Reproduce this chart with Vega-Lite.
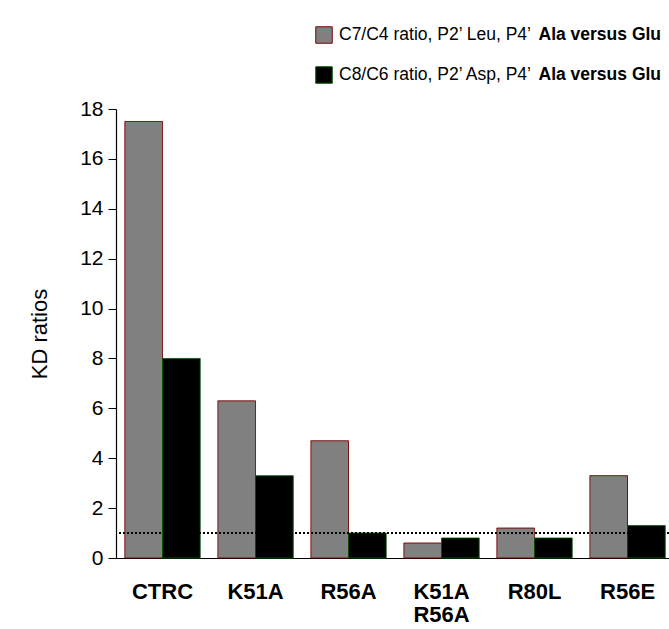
{
  "$schema": "https://vega.github.io/schema/vega-lite/v6.json",
  "width": 553,
  "height": 449,
  "autosize": {"type": "none"},
  "padding": {"left": 116, "top": 109, "right": 0, "bottom": 71},
  "config": {"font": "Liberation Sans", "view": {"stroke": null}},
  "data": {"values": [
    {"variant": "CTRC", "series": "C7/C4 ratio, P2’ Leu, P4’", "comparison": "C7/C4", "ratio": 17.5},
    {"variant": "CTRC", "series": "C8/C6 ratio, P2’ Asp, P4’", "comparison": "C8/C6", "ratio": 8.0},
    {"variant": "K51A", "series": "C7/C4 ratio, P2’ Leu, P4’", "comparison": "C7/C4", "ratio": 6.3},
    {"variant": "K51A", "series": "C8/C6 ratio, P2’ Asp, P4’", "comparison": "C8/C6", "ratio": 3.3},
    {"variant": "R56A", "series": "C7/C4 ratio, P2’ Leu, P4’", "comparison": "C7/C4", "ratio": 4.7},
    {"variant": "R56A", "series": "C8/C6 ratio, P2’ Asp, P4’", "comparison": "C8/C6", "ratio": 1.0},
    {"variant": "K51A R56A", "series": "C7/C4 ratio, P2’ Leu, P4’", "comparison": "C7/C4", "ratio": 0.6},
    {"variant": "K51A R56A", "series": "C8/C6 ratio, P2’ Asp, P4’", "comparison": "C8/C6", "ratio": 0.8},
    {"variant": "R80L", "series": "C7/C4 ratio, P2’ Leu, P4’", "comparison": "C7/C4", "ratio": 1.2},
    {"variant": "R80L", "series": "C8/C6 ratio, P2’ Asp, P4’", "comparison": "C8/C6", "ratio": 0.8},
    {"variant": "R56E", "series": "C7/C4 ratio, P2’ Leu, P4’", "comparison": "C7/C4", "ratio": 3.3},
    {"variant": "R56E", "series": "C8/C6 ratio, P2’ Asp, P4’", "comparison": "C8/C6", "ratio": 1.3}
  ]},
  "layer": [
    {
      "mark": {"type": "bar", "strokeWidth": 1},
      "encoding": {
        "x": {
          "field": "variant", "type": "nominal",
          "sort": ["CTRC", "K51A", "R56A", "K51A R56A", "R80L", "R56E"],
          "scale": {"paddingInner": 0.19, "paddingOuter": 0.068, "align": 0.7},
          "axis": {
            "title": null, "labelAngle": 0, "labelFontSize": 22, "labelFontWeight": "bold",
            "labelColor": "black", "ticks": false, "tickSize": 0, "labelPadding": 23,
            "domainColor": "black", "domainWidth": 1.2,
            "labelExpr": "split(datum.label, ' ')", "labelLineHeight": 23
          }
        },
        "xOffset": {
          "field": "series", "type": "nominal",
          "scale": {"paddingInner": 0, "paddingOuter": 0}
        },
        "y": {
          "field": "ratio", "type": "quantitative",
          "scale": {"domain": [0, 18], "nice": false},
          "axis": {
            "values": [0, 1, 2, 3, 4, 5, 6, 7, 8, 9, 10, 11, 12, 13, 14, 15, 16, 17, 18],
            "title": "KD ratios", "titleFontSize": 22, "titleFontWeight": "normal",
            "titleColor": "black", "titlePadding": 28,
            "labelFontSize": 21, "labelColor": "black", "labelPadding": 5,
            "labelOverlap": false, "labelFlush": false,
            "labelExpr": "datum.value % 2 === 0 ? datum.label : ''",
            "tickSize": {"condition": {"test": "datum.value % 2 === 0", "value": 8}, "value": 4},
            "tickColor": "black", "domainColor": "black", "domainWidth": 1.2, "grid": false
          }
        },
        "fill": {
          "field": "series", "type": "nominal",
          "scale": {
            "domain": ["C7/C4 ratio, P2’ Leu, P4’", "C8/C6 ratio, P2’ Asp, P4’"],
            "range": ["#808080", "#000000"]
          },
          "legend": {
            "orient": "none", "legendX": 199, "legendY": -83, "title": null,
            "symbolType": "square", "symbolSize": 272, "symbolStrokeColor": "black",
            "symbolStrokeWidth": 1, "labelFontSize": 17.5, "labelColor": "black",
            "labelOffset": 6, "rowPadding": 18, "labelLimit": 0
          }
        },
        "stroke": {
          "field": "series", "type": "nominal",
          "scale": {
            "domain": ["C7/C4 ratio, P2’ Leu, P4’", "C8/C6 ratio, P2’ Asp, P4’"],
            "range": ["#7a0000", "#005a00"]
          },
          "legend": null
        },
        "strokeDash": {
          "field": "comparison", "type": "nominal",
          "scale": {"domain": ["C7/C4", "C8/C6"], "range": [[1, 0], [1, 0]]},
          "legend": {
            "orient": "none", "legendX": 405, "legendY": -83, "title": null,
            "symbolSize": 0, "symbolOpacity": 0, "symbolStrokeWidth": 0,
            "labelOffset": 0, "labelFontSize": 17.5, "labelFontWeight": "bold",
            "labelColor": "black", "rowPadding": 21, "labelLimit": 0,
            "labelExpr": "'Ala versus Glu'"
          }
        }
      }
    },
    {
      "mark": {"type": "rule", "strokeDash": [2, 2], "color": "black", "strokeWidth": 1},
      "encoding": {"y": {"datum": 1}}
    }
  ]
}
